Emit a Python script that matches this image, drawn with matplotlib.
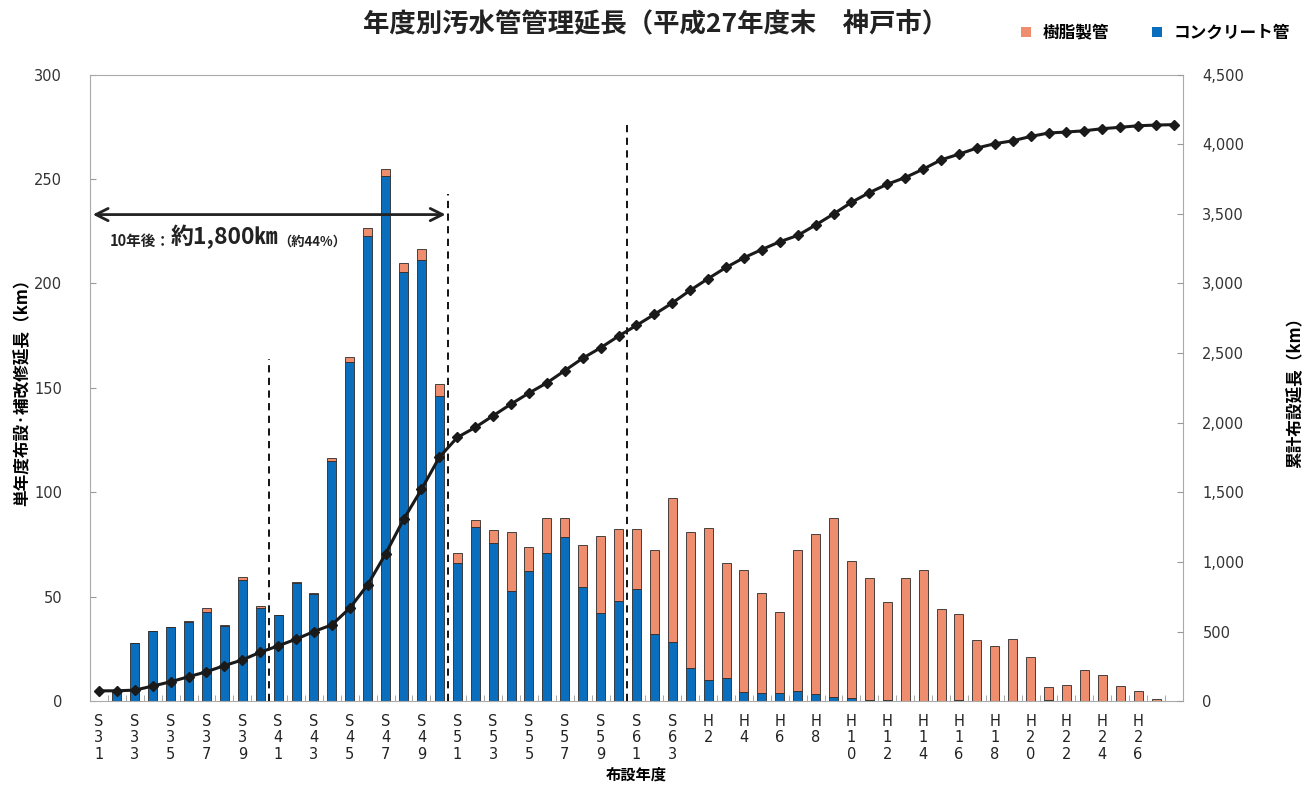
import numpy as np
import matplotlib
matplotlib.use("Agg")
import matplotlib.pyplot as plt
from matplotlib.patches import Patch
from matplotlib.ticker import FuncFormatter

plt.rcParams['font.family'] = ['Noto Sans CJK JP', 'DejaVu Sans']

# fiscal years S31 .. H27 (60 bars), cumulative line has one extra point (end of H27)
years = (["S%d" % y for y in range(31, 64)] + ["H%d" % y for y in range(1, 28)])

# コンクリート管 (km)
concrete = [0, 5, 28, 33.5, 35.3, 37.8, 42.8, 36.2, 58, 44.7,
            41, 56.4, 51.3, 115, 162.4, 222.7, 251.3, 205.4, 211.3, 146.2,
            66.3, 83.5, 75.9, 52.7, 62.3, 71.1, 78.6, 54.6, 42.4, 47.9,
            53.5, 32, 28.3, 15.7, 10.1, 10.9, 4.3, 4, 4, 5,
            3.5, 2, 1.5, 0.6, 0.3, 0.2, 0.2, 0, 0.3, 0,
            0, 0, 0, 0.3, 0, 0, 0, 0, 0, 0]
# 樹脂製管 (km)
resin = [0, 0, 0, 0, 0, 0.5, 1.6, 0.2, 1.3, 0.8,
         0.2, 0.8, 0.7, 1.4, 2.2, 4, 3.6, 4.6, 5, 5.6,
         4.8, 3.2, 5.9, 28.3, 11.7, 16.4, 8.9, 20.2, 36.5, 34.5,
         28.9, 40.5, 68.8, 65.5, 72.6, 55.4, 58.3, 47.7, 38.8, 67.4,
         76.7, 85.5, 65.7, 58.2, 47.3, 58.6, 62.7, 43.9, 41.4, 29.2,
         26.5, 29.9, 21.3, 6.4, 7.9, 15, 12.3, 7.2, 4.8, 1]
# 累計布設延長 (km)
cumulative = [74, 74, 79, 108, 139, 175, 211, 255, 296, 351,
              397, 445, 500, 548, 668, 836, 1058, 1305, 1521, 1752,
              1894, 1966, 2050, 2134, 2213, 2286, 2374, 2463, 2538, 2622,
              2699, 2778, 2860, 2951, 3035, 3115, 3185, 3244, 3300, 3345,
              3420, 3499, 3583, 3653, 3713, 3761, 3821, 3888, 3929, 3973,
              4004, 4025, 4056, 4081, 4088, 4097, 4112, 4122, 4133, 4138, 4141]

# dashed reference lines: (position between bars, height on left axis)
ref_lines = [(9.5, 164), (19.5, 243), (29.5, 278)]

blue = '#0A6EBD'
orange = '#EF8E6E'

fig = plt.figure(figsize=(13.12, 7.86), dpi=100)
ax = fig.add_axes([0.0686, 0.108, 0.833, 0.797])

x = np.arange(len(years))
ax.bar(x, concrete, width=0.5, color=blue, edgecolor='#2a2a2a', linewidth=0.6, zorder=2)
ax.bar(x, resin, width=0.5, bottom=concrete, color=orange, edgecolor='#2a2a2a',
       linewidth=0.6, zorder=2)

for xpos, h in ref_lines:
    ax.plot([xpos, xpos], [0, h], color='black', lw=1.3, ls=(0, (4, 3)), zorder=3)

ax.annotate('', xy=(-0.5, 233), xytext=(19.5, 233),
            arrowprops=dict(arrowstyle='<->', color='#222222', lw=2,
                            mutation_scale=22), zorder=4)
# annotation text in three sizes, chained left to right
t1 = ax.text(0.6, 218, '10年後：', fontsize=10.5, fontweight='bold', va='baseline',
             ha='left', color='#222222')
t2 = ax.annotate('約1,800㎞', xy=(1, 0), xycoords=t1, fontsize=16.5, fontweight='bold',
                 va='bottom', ha='left', color='#222222')
t3 = ax.annotate('（約44%）', xy=(1, 0), xycoords=t2, fontsize=9.5, fontweight='bold',
                 va='bottom', ha='left', color='#222222')

ax.set_xlim(-0.5, 60.5)
ax.set_ylim(0, 300)
ax.set_yticks(range(0, 301, 50))

tick_pos = x[::2]
tick_lab = ['\n'.join(list(years[i])) for i in tick_pos]
ax.set_xticks(tick_pos)
ax.set_xticklabels(tick_lab, fontsize=10.5, family='DejaVu Sans', color='#222222',
                   va='top', linespacing=1.15)
ax.set_xticks(np.arange(-0.5, 60.6, 1), minor=True)
ax.tick_params(axis='x', which='major', length=0, pad=9)
ax.tick_params(axis='x', which='minor', length=4, direction='in', color='#999999')
ax.tick_params(axis='y', length=4, direction='in', color='#999999', labelsize=10.5,
               labelcolor='#333333', pad=20)
for lab in ax.get_yticklabels():
    lab.set_family('DejaVu Sans')

for s in ax.spines.values():
    s.set_color('#aaaaaa')
    s.set_linewidth(0.8)

ax.set_ylabel('単年度布設·補改修延長（km）', fontsize=12, fontweight='bold', labelpad=2)
ax.set_xlabel('布設年度', fontsize=11, fontweight='bold')
ax.xaxis.set_label_coords(0.5, -0.105)

ax2 = ax.twinx()
ax2.plot(np.arange(len(cumulative)), cumulative, color='#1a1a1a', lw=2.2,
         marker='D', markersize=5.5, zorder=5)
ax2.set_ylim(0, 4500)
ax2.set_yticks(range(0, 4501, 500))
ax2.yaxis.set_major_formatter(FuncFormatter(lambda v, p: '{:,.0f}'.format(v)))
ax2.tick_params(axis='y', length=4, direction='in', color='#999999', labelsize=10.5,
                labelcolor='#333333', pad=14)
for lab in ax2.get_yticklabels():
    lab.set_family('DejaVu Sans')
for s in ax2.spines.values():
    s.set_visible(False)
ax2.set_ylabel('累計布設延長（km）', fontsize=12, fontweight='bold', labelpad=30)

fig.text(0.5, 0.968, '年度別汚水管管理延長（平成27年度末　神戸市）', fontsize=19,
         fontweight='bold', ha='center', va='center', color='#222222')

handles = [Patch(facecolor=orange, edgecolor='none'), Patch(facecolor=blue, edgecolor='none')]
fig.legend(handles, ['樹脂製管', 'コンクリート管'], loc='center right',
           bbox_to_anchor=(0.995, 0.958), ncol=2, frameon=False,
           handlelength=0.6, handleheight=0.6, columnspacing=2.6, handletextpad=0.7,
           prop={'weight': 'bold', 'size': 12})

fig.savefig('out.png', dpi=100)
